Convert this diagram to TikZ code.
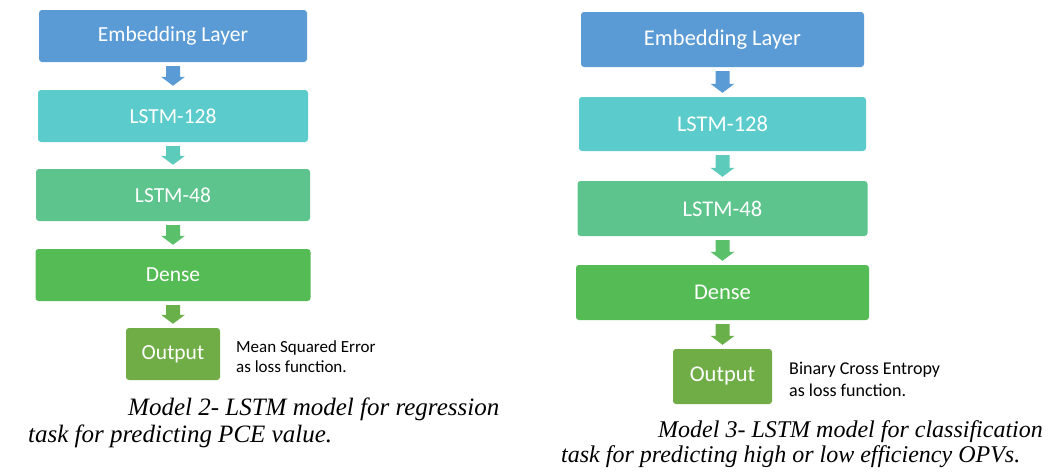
\documentclass[tikz,border=0pt]{standalone}
\usepackage{fontspec}
\setmainfont{Carlito}
\newfontfamily\capfont{Liberation Serif}
\usetikzlibrary{calc}
\definecolor{cEmb}{HTML}{5B9BD5}
\definecolor{cL128}{HTML}{5BCBCC}
\definecolor{cL48}{HTML}{5CC48C}
\definecolor{cDense}{HTML}{55BB55}
\definecolor{cOut}{HTML}{70AD47}
\definecolor{aOne}{HTML}{5B9BD5}
\definecolor{aTwo}{HTML}{5CCBBB}
\definecolor{aThree}{HTML}{5BC06A}
\definecolor{aFour}{HTML}{6AB04A}
\tikzset{
  layerbox/.style={rounded corners=3pt, inner sep=0pt, text=white, font=\fontsize{21.5}{24}\selectfont},
  layerboxR/.style={layerbox, font=\fontsize{22.5}{25}\selectfont},
  notetext/.style={anchor=base west, inner sep=0pt, font=\fontsize{17}{20}\selectfont},
  notetextR/.style={notetext, font=\fontsize{18}{21}\selectfont},
  captext/.style={anchor=base west, inner sep=0pt, font=\capfont\itshape\fontsize{25}{27}\selectfont},
  captextR/.style={captext, font=\capfont\itshape\fontsize{24}{26}\selectfont},
}
\newcommand\blockarrow[3]{%
  \fill[#3] let \p1=(#1.south), \p2=(#2.north) in
    (\x1-7pt,\y1-4pt) -- (\x1+7pt,\y1-4pt) -- (\x1+7pt,\y2+13pt) -- (\x1+12pt,\y2+13pt)
    -- (\x1,\y2+4pt) -- (\x1-12pt,\y2+13pt) -- (\x1-7pt,\y2+13pt) -- cycle;}
\begin{document}
\begin{tikzpicture}[x=1pt,y=-1pt]
\useasboundingbox (0,0) rectangle (1054,471);
% left model
\node[layerbox, fill=cEmb, minimum width=268pt, minimum height=52pt] (le) at (173,36) {Embedding Layer};
\node[layerbox, fill=cL128, minimum width=270pt, minimum height=52pt] (l1) at (173,116) {LSTM-128};
\node[layerbox, fill=cL48, minimum width=274pt, minimum height=52pt] (l2) at (173,195) {LSTM-48};
\node[layerbox, fill=cDense, minimum width=275pt, minimum height=52pt] (ld) at (173,275) {Dense};
\node[layerbox, fill=cOut, minimum width=94pt, minimum height=52pt] (lo) at (173,354) {Output};
\blockarrow{le}{l1}{aOne}
\blockarrow{l1}{l2}{aTwo}
\blockarrow{l2}{ld}{aThree}
\blockarrow{ld}{lo}{aFour}
\node[notetext] (ln1) at (236,352) {Mean Squared Error};
\node[notetext] (ln2) at (236,372) {as loss function.};
\node[captext] (lc1) at (128,415) {Model 2- LSTM model for regression};
\node[captext] (lc2) at (28,442) {task for predicting PCE value.};
% right model
\node[layerboxR, fill=cEmb, minimum width=283pt, minimum height=55pt] (re) at (722.5,39.5) {Embedding Layer};
\node[layerboxR, fill=cL128, minimum width=287pt, minimum height=54pt] (r1) at (722.5,124) {LSTM-128};
\node[layerboxR, fill=cL48, minimum width=290pt, minimum height=55pt] (r2) at (722.5,208.5) {LSTM-48};
\node[layerboxR, fill=cDense, minimum width=293pt, minimum height=55pt] (rd) at (722.5,292.5) {Dense};
\node[layerboxR, fill=cOut, minimum width=99pt, minimum height=55pt] (ro) at (722.5,376.5) {Output};
\blockarrow{re}{r1}{aOne}
\blockarrow{r1}{r2}{aTwo}
\blockarrow{r2}{rd}{aThree}
\blockarrow{rd}{ro}{aFour}
\node[notetextR] (rn1) at (789,374) {Binary Cross Entropy};
\node[notetextR] (rn2) at (789,396) {as loss function.};
\node[captextR] (rc1) at (658,437) {Model 3- LSTM model for classification};
\node[captextR] (rc2) at (561,462) {task for predicting high or low efficiency OPVs.};
\end{tikzpicture}
\end{document}
